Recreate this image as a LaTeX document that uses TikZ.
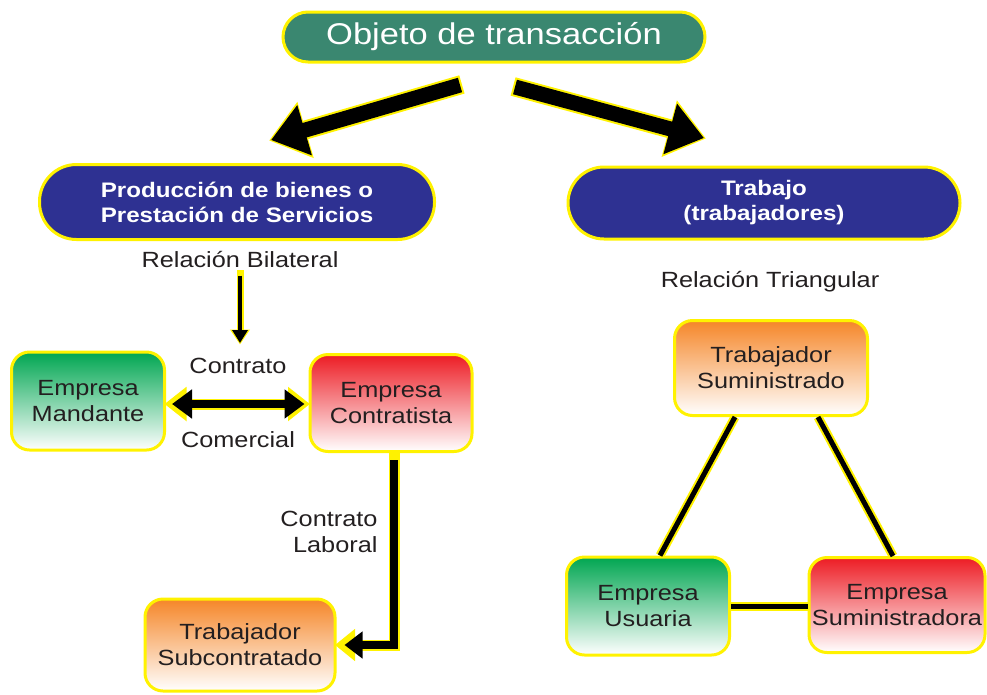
\documentclass[tikz,border=0pt]{standalone}
\usepackage{fontspec}
\setmainfont[FakeStretch=1.15]{Liberation Sans}
\usetikzlibrary{arrows.meta}
\definecolor{objteal}{RGB}{58,135,112}
\definecolor{prodblue}{RGB}{46,49,146}
\definecolor{rimyellow}{RGB}{255,242,0}
\definecolor{empgreen}{RGB}{0,166,81}
\definecolor{empred}{RGB}{237,28,36}
\definecolor{workorange}{RGB}{245,134,40}
\definecolor{inkgray}{RGB}{35,31,32}
\begin{document}
\begin{tikzpicture}[x=1pt,y=-1pt,
    box/.style={draw=rimyellow, line width=3pt, rounded corners=18pt, align=center, inner sep=0pt, text=inkgray, font=\fontsize{22}{26}\selectfont},
    greenbox/.style={box, top color=empgreen, bottom color=white},
    redbox/.style={box, top color=empred, bottom color=white},
    orangebox/.style={box, top color=workorange, bottom color=white},
    pill/.style={draw=rimyellow, line width=3pt, fill=prodblue, text=white, align=center, inner sep=0pt, font=\bfseries\fontsize{21}{25}\selectfont},
    lbl/.style={text=inkgray, font=\fontsize{22}{26}\selectfont, align=center},
    bigarrow/.style={line width=15pt, -{Triangle[length=35pt,width=50pt]}, preaction={draw=rimyellow, line width=19pt, -{Triangle[length=38pt,width=56pt]}, shorten >=-2pt, shorten <=-2pt}},
    smallarrow/.style={line width=4pt, -{Triangle[length=13pt,width=15pt]}, preaction={draw=rimyellow, line width=7pt, -{Triangle[length=15pt,width=19pt]}, shorten >=-1.5pt, shorten <=-1.5pt}},
    midarrow/.style={line width=8pt, {Triangle[length=20pt,width=28pt]}-{Triangle[length=20pt,width=28pt]}, preaction={draw=rimyellow, line width=11pt, {Triangle[length=22pt,width=33pt]}-{Triangle[length=22pt,width=33pt]}, shorten >=-1.5pt, shorten <=-1.5pt}},
    elbowarrow/.style={line width=8pt, line join=miter, -{Triangle[length=18pt,width=26pt]}, preaction={draw=rimyellow, line width=11pt, -{Triangle[length=20pt,width=31pt]}, shorten >=-1.5pt, shorten <=-1.5pt}},
    link/.style={line width=5pt, preaction={draw=rimyellow, line width=9pt}}
  ]
    \useasboundingbox (0,0) rectangle (987,694);

    \node[pill, fill=objteal, font=\fontsize{30}{36}\selectfont, minimum width=422pt, minimum height=50pt, rounded corners=25pt] (obj) at (494,37) {Objeto de transacción};
    \node[pill, minimum width=395pt, minimum height=75pt, rounded corners=37pt] (prod) at (237,202) {Producción de bienes o\\Prestación de Servicios};
    \node[pill, minimum width=392pt, minimum height=72pt, rounded corners=36pt] (trab) at (764,203) {Trabajo\\(trabajadores)};

    \coordinate (objL) at (460,85);
    \coordinate (prodT) at (271,140);
    \coordinate (objR) at (515,87);
    \coordinate (trabT) at (704,138);

    \node[lbl] (bilat) at (240,260) {Relación Bilateral};
    \node[lbl] (triang) at (770,282) {Relación Triangular};
    \node[lbl] (ctop) at (238,366) {Contrato};
    \node[lbl] (cbot) at (238,440) {Comercial};
    \node[lbl, align=right, anchor=east] (laboral) at (381,532) {Contrato\\Laboral};
    \coordinate (bilatEnd) at (240,343);

    \node[greenbox, minimum width=153pt, minimum height=98pt] (mand) at (88,401) {Empresa\\Mandante};
    \node[redbox, minimum width=162pt, minimum height=97pt] (contr) at (391,403) {Empresa\\Contratista};
    \node[orangebox, minimum width=190pt, minimum height=92pt] (subc) at (240,645) {Trabajador\\Subcontratado};
    \node[orangebox, minimum width=193pt, minimum height=95pt] (sumtrab) at (771,368) {Trabajador\\Suministrado};
    \node[greenbox, minimum width=163pt, minimum height=98pt] (usu) at (648,606) {Empresa\\Usuaria};
    \node[redbox, minimum width=176pt, minimum height=95pt] (sumin) at (897,605) {Empresa\\Suministradora};

    \draw[bigarrow] (objL) -- (prodT);
    \draw[bigarrow] (objR) -- (trabT);
    \draw[smallarrow, shorten <=4pt] (bilat.south) -- (bilatEnd);
    \draw[midarrow, shorten <=6pt, shorten >=4pt] ([yshift=-3pt]mand.east) -- ([yshift=-3pt]mand.east -| contr.west);
    \draw[elbowarrow, shorten <=7pt, shorten >=8pt] ([xshift=3pt]contr.south) |- (subc.east);
    \draw[link] ([xshift=-36pt]sumtrab.south) -- ([xshift=12pt]usu.north);
    \draw[link] ([xshift=47pt]sumtrab.south) -- ([xshift=-4pt]sumin.north);
    \draw[link] (usu.east) -- (usu.east -| sumin.west);
\end{tikzpicture}
\end{document}
